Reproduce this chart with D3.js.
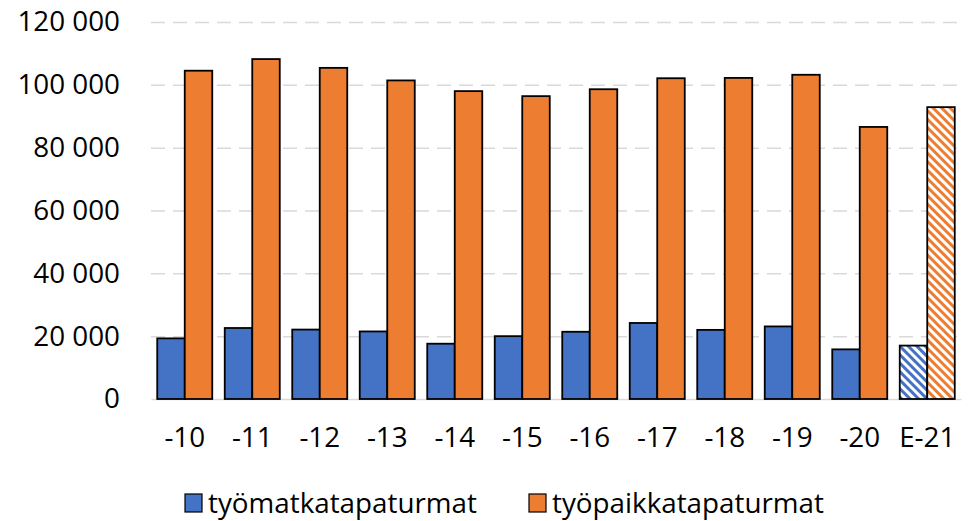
<!DOCTYPE html>
<html>
<head>
<meta charset="utf-8">
<script src="https://cdn.jsdelivr.net/npm/d3@7"></script>
<style>
  html, body { margin: 0; padding: 0; background: #fff; }
  text { font-family: "Open Sans", "Noto Sans", sans-serif; fill: #000; }
</style>
</head>
<body>
<div id="chart"></div>
<script>
// data
const categories = ["-10", "-11", "-12", "-13", "-14", "-15", "-16", "-17", "-18", "-19", "-20", "E-21"]
const tyomatka = [19300, 22600, 22100, 21500, 17600, 20000, 21400, 24200, 22000, 23100, 15800, 17000]
const tyopaikka = [104500, 108200, 105400, 101400, 98000, 96400, 98600, 102100, 102200, 103200, 86600, 92900]
const estimated = ["E-21"]   // drawn hatched
const seriesNames = ["työmatkatapaturmat", "työpaikkatapaturmat"]
const yTicks = [0, 20000, 40000, 60000, 80000, 100000, 120000]

const width = 971
const height = 521
const marginTop = 22
const marginRight = 10
const marginBottom = 122
const marginLeft = 151
const colors = ["#4472C4", "#ED7D31"]
const fontSize = "27.8px"

const svg = d3.select("#chart")
    .append("svg")
    .attr("width", width)
    .attr("height", height)
    .attr("viewBox", [0, 0, width, height])

// hatch patterns for the estimate
const defs = svg.append("defs")
colors.forEach((c, i) => {
    const p = defs.append("pattern")
        .attr("id", "hatch" + i)
        .attr("patternUnits", "userSpaceOnUse")
        .attr("width", 6)
        .attr("height", 6)
        .attr("patternTransform", "rotate(-45)")
    p.append("rect").attr("width", 6).attr("height", 6).attr("fill", "#fff")
    p.append("rect").attr("width", 3).attr("height", 6).attr("fill", c)
})

const x0 = d3.scaleBand(categories, [marginLeft, width - marginRight])
    .paddingInner(0.185)
    .paddingOuter(0.0925)
const x1 = d3.scaleBand([0, 1], [0, x0.bandwidth()])
const y = d3.scaleLinear([0, 120000], [height - marginBottom, marginTop])

const fmt = v => d3.format(",")(v).replace(/,/g, " ")

// y axis with dashed gridlines
svg.append("g")
    .attr("transform", `translate(${marginLeft},0)`)
    .call(d3.axisLeft(y).tickValues(yTicks).tickFormat(fmt).tickSize(0).tickPadding(31))
    .call(g => g.select(".domain").remove())
    .call(g => g.selectAll(".tick text").style("font-size", fontSize))
    .call(g => g.selectAll(".tick").filter(d => d > 0).append("line")
        .attr("x2", width - marginLeft - marginRight)
        .attr("stroke", "#d9d9d9")
        .attr("stroke-width", 1.5)
        .attr("stroke-dasharray", "14,8"))

// x axis baseline
svg.append("g")
    .attr("transform", `translate(0,${y(0)})`)
    .call(d3.axisBottom(x0).tickSize(0).tickPadding(28))
    .call(g => g.select(".domain").attr("stroke", "#d9d9d9").attr("stroke-width", 1.5))
    .call(g => g.selectAll(".tick text").style("font-size", fontSize))

// bars
const series = [tyomatka, tyopaikka]
series.forEach((vals, s) => {
    svg.append("g")
        .selectAll("rect")
        .data(categories)
        .join("rect")
        .attr("x", (d) => x0(d) + x1(s))
        .attr("y", (d, i) => y(vals[i]))
        .attr("width", x1.bandwidth())
        .attr("height", (d, i) => y(0) - y(vals[i]))
        .attr("fill", d => estimated.includes(d) ? `url(#hatch${s})` : colors[s])
        .attr("stroke", "#000")
        .attr("stroke-width", 1.8)
})

// legend
const legendX = [185, 529]
const legend = svg.append("g")
    .selectAll("g")
    .data(seriesNames)
    .join("g")
    .attr("transform", (d, i) => `translate(${legendX[i]},494)`)
legend.append("rect")
    .attr("width", 17)
    .attr("height", 18)
    .attr("fill", (d, i) => colors[i])
    .attr("stroke", "#000")
    .attr("stroke-width", 1.2)
legend.append("text")
    .attr("x", 23)
    .attr("y", 9)
    .attr("dy", "0.36em")
    .style("font-size", fontSize)
    .text(d => d)
</script>
</body>
</html>
